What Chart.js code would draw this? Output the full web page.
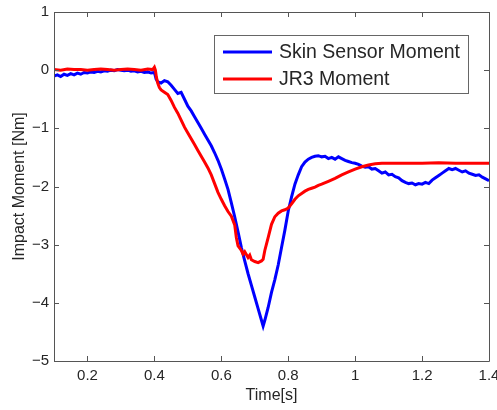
<!DOCTYPE html>
<html>
<head>
<meta charset="utf-8">
<script src="https://cdn.jsdelivr.net/npm/chart.js@4/dist/chart.umd.min.js"></script>
<style>
html,body{margin:0;padding:0;background:#fff;overflow:hidden;}
#wrap{width:497px;height:410px;}
</style>
</head>
<body>
<div id="wrap"><canvas id="c" width="497" height="410"></canvas></div>
<script>
// ---- data ----
const xTicks = [0.2, 0.4, 0.6, 0.8, 1.0, 1.2, 1.4];
const yTicks = [-5, -4, -3, -2, -1, 0, 1];
const seriesNames = ["Skin Sensor Moment", "JR3 Moment"];

const skinT = [0.10,0.11,0.12,0.13,0.14,0.15,0.16,0.17,0.18,0.19,0.20,0.21,0.22,0.23,0.24,0.25,0.26,0.27,0.28,0.29,0.30,0.31,0.32,0.33,0.34,0.35,0.36,0.37,0.38,0.39,0.40,0.402,
  0.405,0.41,0.42,0.43,0.44,0.45,0.46,0.47,0.48,0.49,0.50,0.51,0.52,0.53,0.54,0.55,0.56,0.57,0.58,0.59,0.60,0.61,0.62,0.63,0.64,0.65,0.66,0.67,0.68,0.69,0.70,0.71,0.72,0.725,0.73,0.74,0.75,0.76,0.77,0.78,0.79,0.80,0.81,0.82,0.83,0.84,0.85,0.86,0.87,0.88,0.89,0.90,0.91,0.92,0.93,0.94,0.95,0.96,0.97,0.98,0.99,1.00,1.01,1.02,1.03,1.04,1.05,1.06,1.07,1.08,1.09,1.10,1.11,1.12,1.13,1.14,1.15,1.16,1.17,1.18,1.19,1.20,1.21,1.22,1.23,1.24,1.25,1.26,1.27,1.28,1.29,1.30,1.31,1.32,1.33,1.34,1.35,1.36,1.37,1.38,1.39,1.40];
const skinV = [-0.10,-0.08,-0.11,-0.07,-0.09,-0.06,-0.08,-0.05,-0.07,-0.04,-0.05,-0.03,-0.04,-0.02,-0.03,-0.01,-0.02,0.00,-0.01,0.01,0.00,-0.01,0.00,-0.02,-0.01,-0.03,-0.02,-0.04,-0.03,-0.05,-0.04,-0.08,
  -0.15,-0.20,-0.22,-0.18,-0.20,-0.26,-0.33,-0.40,-0.38,-0.50,-0.62,-0.70,-0.80,-0.90,-1.00,-1.10,-1.20,-1.30,-1.42,-1.55,-1.70,-1.87,-2.05,-2.28,-2.52,-2.78,-3.05,-3.28,-3.50,-3.70,-3.90,-4.10,-4.30,-4.40,-4.30,-4.08,-3.82,-3.60,-3.35,-3.05,-2.75,-2.42,-2.18,-1.96,-1.80,-1.66,-1.58,-1.53,-1.50,-1.48,-1.47,-1.49,-1.48,-1.52,-1.50,-1.53,-1.49,-1.52,-1.55,-1.57,-1.59,-1.60,-1.62,-1.65,-1.67,-1.66,-1.70,-1.69,-1.73,-1.77,-1.75,-1.80,-1.79,-1.83,-1.85,-1.90,-1.93,-1.95,-1.94,-1.97,-1.95,-1.96,-1.93,-1.95,-1.89,-1.85,-1.81,-1.77,-1.73,-1.69,-1.71,-1.69,-1.72,-1.75,-1.73,-1.77,-1.79,-1.81,-1.80,-1.84,-1.87,-1.90];

const jr3T = [0.10,0.12,0.14,0.16,0.18,0.20,0.22,0.24,0.26,0.28,0.30,0.32,0.34,0.36,0.38,0.395,0.40,0.403,0.406,0.41,0.415,0.42,0.43,0.44,0.45,0.46,0.47,0.48,0.49,0.50,0.51,0.52,0.53,0.54,0.55,0.56,0.57,0.58,0.59,0.60,0.61,0.62,0.63,0.64,0.645,0.65,0.66,0.665,0.67,0.68,0.685,0.69,0.70,0.71,0.72,0.725,0.73,0.74,0.75,0.76,0.77,0.78,0.79,0.80,0.81,0.82,0.83,0.84,0.85,0.86,0.87,0.88,0.89,0.90,0.92,0.94,0.96,0.98,1.00,1.02,1.04,1.06,1.08,1.10,1.15,1.20,1.25,1.30,1.35,1.40];
const jr3V = [0.01,0.00,0.02,0.01,0.01,0.00,0.01,0.02,0.01,0.00,0.01,0.02,0.01,0.00,0.02,0.01,0.05,0.00,-0.12,-0.22,-0.30,-0.34,-0.38,-0.42,-0.52,-0.64,-0.74,-0.86,-0.98,-1.08,-1.18,-1.28,-1.38,-1.48,-1.58,-1.68,-1.80,-1.95,-2.10,-2.22,-2.33,-2.43,-2.51,-2.66,-2.88,-3.02,-3.10,-3.16,-3.12,-3.22,-3.18,-3.26,-3.29,-3.31,-3.28,-3.25,-3.10,-2.88,-2.65,-2.52,-2.46,-2.42,-2.40,-2.37,-2.30,-2.22,-2.16,-2.12,-2.08,-2.05,-2.03,-2.01,-1.98,-1.96,-1.91,-1.86,-1.80,-1.75,-1.70,-1.66,-1.63,-1.61,-1.60,-1.60,-1.60,-1.60,-1.59,-1.60,-1.60,-1.60];

const FONT = '"Liberation Sans", Arial, Helvetica, sans-serif';
const AXIS_COL = '#555555';
const TEXT_COL = '#262626';

function fmt(v){ return String(Number(v.toFixed(1))).replace('-', '\u2212'); }

const framePlugin = {
  id: 'frame',
  afterDatasetsDraw(chart) {
    const {ctx, chartArea: a, scales} = chart;
    const xs = scales.x, ys = scales.y;
    ctx.save();
    ctx.strokeStyle = AXIS_COL;
    ctx.lineWidth = 1;
    ctx.beginPath();
    ctx.rect(Math.round(a.left) + 0.5, Math.round(a.top) + 0.5, Math.round(a.right - a.left), Math.round(a.bottom - a.top));
    ctx.stroke();
    const tl = 5;
    ctx.beginPath();
    xTicks.forEach(v => {
      const px = Math.round(xs.getPixelForValue(v)) + 0.5;
      ctx.moveTo(px, a.bottom); ctx.lineTo(px, a.bottom - tl);
      ctx.moveTo(px, a.top); ctx.lineTo(px, a.top + tl);
    });
    yTicks.forEach(v => {
      const py = Math.round(ys.getPixelForValue(v)) + 0.5;
      ctx.moveTo(a.left, py); ctx.lineTo(a.left + tl, py);
      ctx.moveTo(a.right, py); ctx.lineTo(a.right - tl, py);
    });
    ctx.stroke();

    // legend box
    const bx = 214, by = 35, bw = 254, bh = 58;
    ctx.fillStyle = '#ffffff';
    ctx.fillRect(bx, by, bw, bh);
    ctx.strokeStyle = '#666666';
    ctx.strokeRect(bx + 0.5, by + 0.5, bw, bh);
    const rows = [by + 17, by + 44];
    chart.data.datasets.forEach((ds, i) => {
      ctx.strokeStyle = ds.borderColor;
      ctx.lineWidth = 3;
      ctx.beginPath();
      ctx.moveTo(bx + 9, rows[i]); ctx.lineTo(bx + 58, rows[i]);
      ctx.stroke();
      ctx.fillStyle = TEXT_COL;
      ctx.font = '19.5px ' + FONT;
      ctx.textBaseline = 'middle';
      ctx.textAlign = 'left';
      ctx.fillText(ds.label, bx + 65, rows[i] + 1);
    });
    ctx.restore();
  }
};

new Chart(document.getElementById('c'), {
  type: 'scatter',
  data: {
    datasets: [
      {
        label: seriesNames[0],
        data: skinT.map((t, i) => ({x: t, y: skinV[i]})),
        borderColor: '#0000ff',
        backgroundColor: '#0000ff',
        borderWidth: 3,
        showLine: true,
        pointRadius: 0,
        tension: 0,
        order: 2
      },
      {
        label: seriesNames[1],
        data: jr3T.map((t, i) => ({x: t, y: jr3V[i]})),
        borderColor: '#ff0000',
        backgroundColor: '#ff0000',
        borderWidth: 3,
        showLine: true,
        pointRadius: 0,
        tension: 0,
        order: 1
      }
    ]
  },
  options: {
    responsive: false,
    animation: false,
    layout: { padding: { left: 0, right: 8, top: 12, bottom: 0 } },
    plugins: { legend: { display: false }, tooltip: { enabled: false } },
    scales: {
      x: {
        type: 'linear',
        min: 0.1, max: 1.4,
        grid: { display: false, drawTicks: false },
        border: { display: false },
        afterBuildTicks: s => { s.ticks = xTicks.map(v => ({value: v})); },
        afterFit: s => { s.height = 49; s.paddingLeft = 0; s.paddingRight = 0; },
        ticks: { color: TEXT_COL, font: { family: FONT, size: 15 }, padding: 6, maxRotation: 0, autoSkip: false, callback: v => fmt(v) },
        title: { display: true, text: 'Time[s]', color: TEXT_COL, font: { family: FONT, size: 16 }, padding: { top: 0, bottom: 5 } }
      },
      y: {
        type: 'linear',
        min: -5, max: 1,
        grid: { display: false, drawTicks: false },
        border: { display: false },
        afterBuildTicks: s => { s.ticks = yTicks.map(v => ({value: v})); },
        afterFit: s => { s.width = 54; s.paddingTop = 0; s.paddingBottom = 0; },
        ticks: { color: TEXT_COL, font: { family: FONT, size: 15 }, padding: 5, autoSkip: false, callback: v => fmt(v) },
        title: { display: true, text: 'Impact Moment [Nm]', color: TEXT_COL, font: { family: FONT, size: 16 }, padding: { top: 10, bottom: 0 } }
      }
    }
  },
  plugins: [framePlugin]
});
</script>
</body>
</html>
